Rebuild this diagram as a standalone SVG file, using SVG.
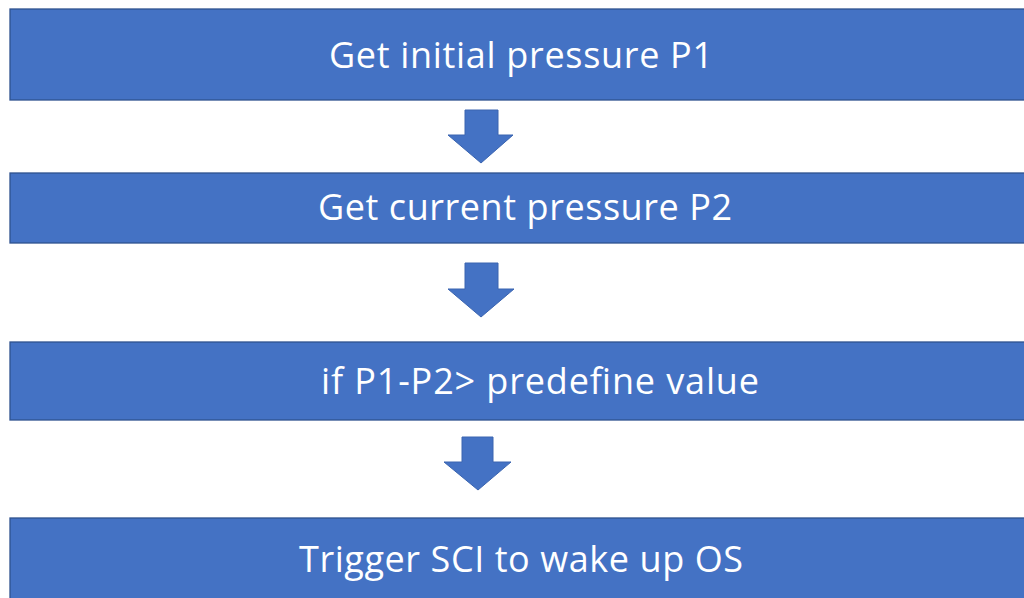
<svg xmlns="http://www.w3.org/2000/svg" width="1024" height="598" viewBox="0 0 1024 598">
  <style>
    .step { fill: #4472C4; stroke: #2F528F; stroke-width: 1.3; }
    .arrow { fill: #4472C4; stroke: #3A64B0; stroke-width: 1; }
    .label { font-family: "Open Sans", "Noto Sans", "DejaVu Sans", sans-serif; font-size: 36px; fill: #FFFFFF; }
  </style>
  <rect width="1024" height="598" fill="#FFFFFF"/>

  <g id="step-initial-pressure">
    <rect class="step" x="10" y="9" width="1030" height="91"/>
    <text class="label" x="521" y="68" text-anchor="middle" textLength="384" lengthAdjust="spacing">Get initial pressure P1</text>
  </g>

  <g id="step-current-pressure">
    <rect class="step" x="10" y="173" width="1030" height="70"/>
    <text class="label" x="525" y="220" text-anchor="middle" textLength="414" lengthAdjust="spacing">Get current pressure P2</text>
  </g>

  <g id="step-compare">
    <rect class="step" x="10" y="342" width="1030" height="78"/>
    <text class="label" x="540" y="394" text-anchor="middle" textLength="438" lengthAdjust="spacing">if P1-P2&gt; predefine value</text>
  </g>

  <g id="step-trigger-sci">
    <rect class="step" x="10" y="518" width="1030" height="100"/>
    <text class="label" x="521" y="572" text-anchor="middle" textLength="444" lengthAdjust="spacing">Trigger SCI to wake up OS</text>
  </g>

  <g id="connectors">
    <polygon class="arrow" points="465,110 498,110 498,135 513,135 481,163 448,135 465,135"/>
    <polygon class="arrow" points="465,263 498,263 498,289 514,289 481,317 448,289 465,289"/>
    <polygon class="arrow" points="462,437 493,437 493,462 511,462 478,490 444,462 462,462"/>
  </g>
</svg>
